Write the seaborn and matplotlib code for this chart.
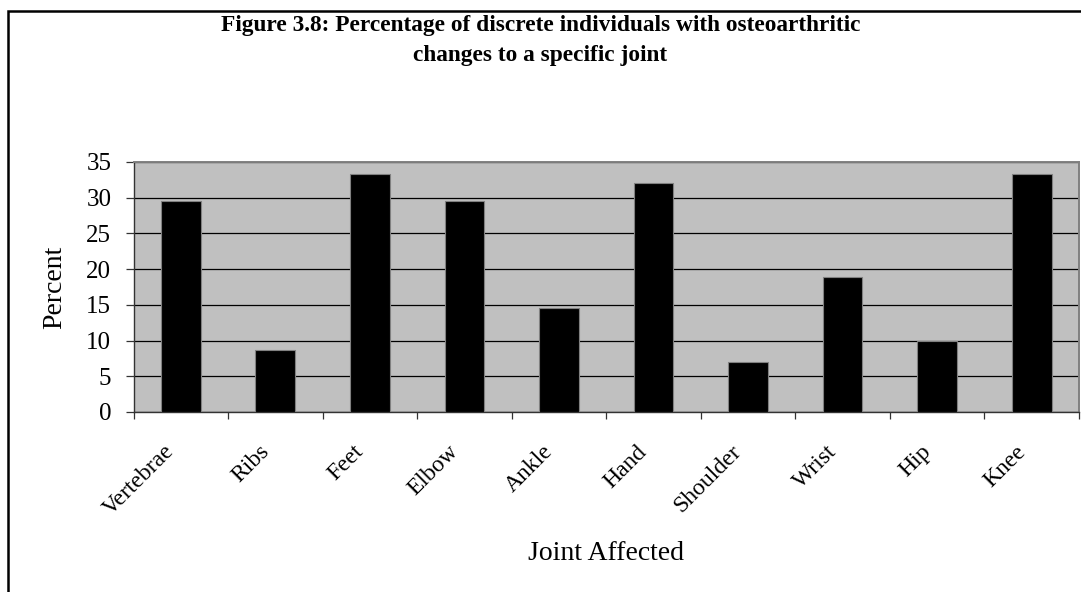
import matplotlib
matplotlib.use("Agg")
import matplotlib.pyplot as plt
import matplotlib.patches as mpatches
import matplotlib.transforms as mtransforms
import seaborn as sns
import pandas as pd

joints = ["Vertebrae", "Ribs", "Feet", "Elbow", "Ankle", "Hand",
          "Shoulder", "Wrist", "Hip", "Knee"]
percent = [29.5, 8.7, 33.3, 29.5, 14.5, 32.1, 7.0, 18.9, 10.0, 33.3]
y_ticks = [0, 5, 10, 15, 20, 25, 30, 35]

sns.set_theme(style="white")
plt.rcParams["font.family"] = ["Liberation Serif", "DejaVu Serif"]
plt.rcParams["text.color"] = "black"
plt.rcParams["axes.labelcolor"] = "black"
plt.rcParams["xtick.color"] = "black"
plt.rcParams["ytick.color"] = "black"

df = pd.DataFrame({"joint": joints, "percent": percent})

W, H = 1081, 592
fig = plt.figure(figsize=(W / 100, H / 100), dpi=100)
fig.patch.set_facecolor("white")
ax = fig.add_axes([133.5 / W, 1 - 412 / H, (1079 - 133.5) / W, (412 - 162) / H])

sns.barplot(data=df, x="joint", y="percent", color="black", width=0.42,
            edgecolor="#808080", linewidth=0.8, saturation=1, ax=ax, zorder=3)

ax.set_facecolor("#C0C0C0")
ax.set_ylim(0, 35)
ax.set_xlim(-0.5, len(joints) - 0.5)
ax.set_yticks(y_ticks)
ax.set_yticklabels([str(v) for v in y_ticks], fontsize=18)
ax.yaxis.grid(True, color="black", linewidth=0.9, zorder=1)
ax.set_axisbelow(True)

# category labels at centers, separator ticks at category boundaries
ax.set_xticks(range(len(joints)))
ax.set_xticks([i - 0.5 for i in range(len(joints) + 1)], minor=True)
ax.tick_params(axis="x", which="major", length=0, pad=21)
ax.tick_params(axis="x", which="minor", length=5, width=0.9,
               color="#333333", direction="out", bottom=True)
ax.tick_params(axis="y", which="major", length=6, width=0.9,
               color="#333333", direction="out", left=True, pad=10)
ax.set_xticklabels(joints, rotation=45, ha="right", va="top",
                   rotation_mode="anchor", fontsize=17)
shift = mtransforms.ScaledTranslation(-0.17, 0, fig.dpi_scale_trans)
for lbl in ax.get_xticklabels():
    lbl.set_transform(lbl.get_transform() + shift)

for side in ["top", "right"]:
    ax.spines[side].set_color("#808080")
    ax.spines[side].set_linewidth(1.4)
for side in ["left", "bottom"]:
    ax.spines[side].set_color("#333333")
    ax.spines[side].set_linewidth(1.0)

ax.set_xlabel("Joint Affected", fontsize=20)
ax.set_ylabel("Percent", fontsize=20)
ax.xaxis.set_label_coords(0.5, (412 - 541) / 250)
ax.yaxis.set_label_coords((67 - 133.5) / 945.5, 0.5)

fig.text(0.5, 1 - 26 / H, "Figure 3.8: Percentage of discrete individuals with osteoarthritic",
         ha="center", va="center", fontsize=16.8, fontweight="bold")
fig.text(0.5, 1 - 56 / H, "changes to a specific joint",
         ha="center", va="center", fontsize=16.8, fontweight="bold")

# outer chart frame
frame = mpatches.Rectangle((8 / W, -0.05), 1.2, 1 - 11 / H + 0.05,
                           transform=fig.transFigure, fill=False,
                           edgecolor="black", linewidth=1.8)
fig.patches.append(frame)

fig.savefig("out.png", dpi=100)
